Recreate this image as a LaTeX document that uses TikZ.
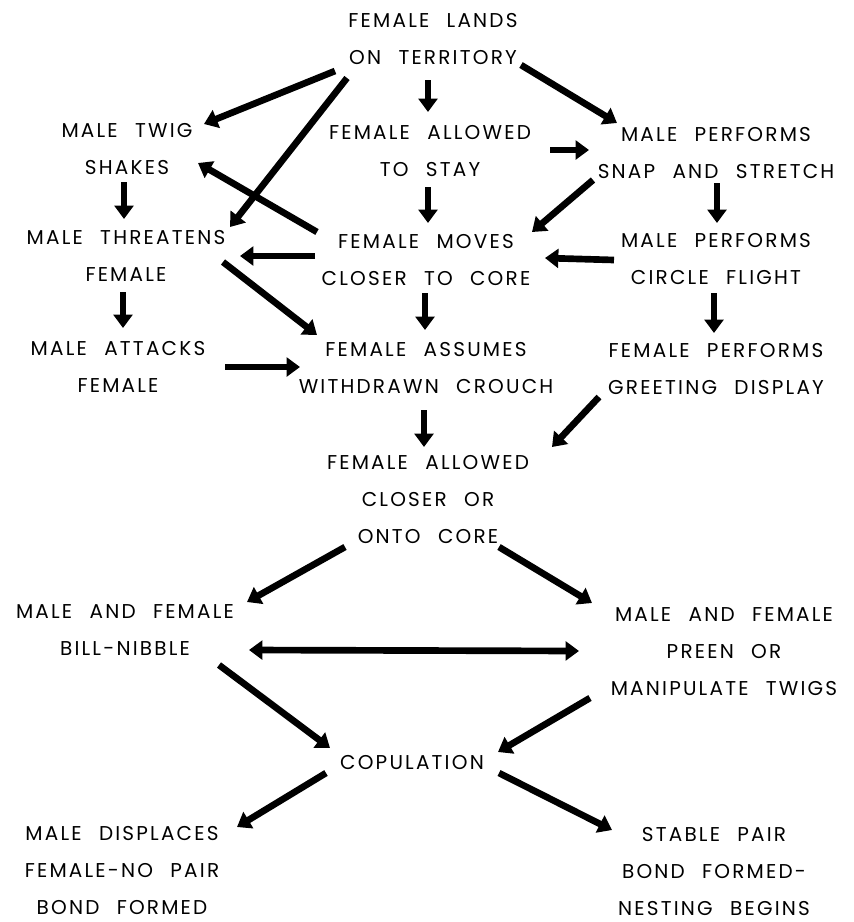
\documentclass[tikz,border=0pt]{standalone}
\usepackage{fontspec}
\setmainfont{Poppins}
\newfontfamily\labfont[LetterSpace=11,WordSpace=2.3]{Poppins}
\usetikzlibrary{arrows.meta,calc}
\tikzset{
  lab/.style={font=\labfont\fontsize{15}{27.75}\selectfont, align=center, inner sep=0pt, text=black},
  arr/.style={line width=5pt, -{Triangle[length=10pt,width=14pt]}},
  darr/.style={line width=5pt, {Triangle[length=10pt,width=14pt]}-{Triangle[length=10pt,width=14pt]}},
}
\begin{document}
\begin{tikzpicture}[x=0.75pt,y=-0.75pt]
\useasboundingbox[fill=white] (0,0) rectangle (854,922);
% nodes
\node[lab] (land)     at (433,39)  {FEMALE LANDS\\ON TERRITORY};
\node[lab] (twig)     at (127,149) {MALE TWIG\\SHAKES};
\node[lab] (allowed)  at (430,151) {FEMALE ALLOWED\\TO STAY};
\node[lab] (snap)     at (716,153) {MALE PERFORMS\\SNAP AND STRETCH};
\node[lab] (threat)   at (126,256) {MALE THREATENS\\FEMALE};
\node[lab] (moves)    at (426,260) {FEMALE MOVES\\CLOSER TO CORE};
\node[lab] (circle)   at (716,259) {MALE PERFORMS\\CIRCLE FLIGHT};
\node[lab] (attacks)  at (118,367) {MALE ATTACKS\\FEMALE};
\node[lab] (crouch)   at (426,368) {FEMALE ASSUMES\\WITHDRAWN CROUCH};
\node[lab] (greet)    at (716,369) {FEMALE PERFORMS\\GREETING DISPLAY};
\node[lab] (closer)   at (428,500) {FEMALE ALLOWED\\CLOSER OR\\ONTO CORE};
\node[lab] (nibble)   at (125,630) {MALE AND FEMALE\\BILL-NIBBLE};
\node[lab] (preen)    at (724,652) {MALE AND FEMALE\\PREEN OR\\MANIPULATE TWIGS};
\node[lab] (copul)    at (412,763) {COPULATION};
\node[lab] (displace) at (122,870) {MALE DISPLACES\\FEMALE-NO PAIR\\BOND FORMED};
\node[lab] (stable)   at (714,871) {STABLE PAIR\\BOND FORMED-\\NESTING BEGINS};
% connectors
\draw[arr] ($(land)+(-98,32)$) -- ($(twig)+(77,-25)$);
\draw[arr] ($(land)+(-5,41)$) -- ($(allowed)+(-2,-39)$);
\draw[arr] ($(land)+(88,26)$) -- ($(snap)+(-99,-30)$);
\draw[arr] ($(allowed)+(120,-1)$) -- ($(snap)+(-127,-3)$);
\draw[arr] ($(allowed)+(-2,36)$) -- ($(moves)+(2,-37)$);
\draw[arr] ($(snap)+(-123,27)$) -- ($(moves)+(106,-28)$);
\draw[arr] ($(snap)+(1,30)$) -- ($(circle)+(1,-36)$);
\draw[arr] ($(moves)+(-109,-28)$) -- ($(twig)+(71,14)$);
\draw[arr, preaction={draw=white, line width=13pt, arrows=-, shorten <=40pt, shorten >=40pt}] ($(land)+(-86,39)$) -- ($(threat)+(104,-29)$);
\draw[arr] ($(moves)+(-111,-4)$) -- ($(threat)+(114,0)$);
\draw[arr] ($(circle)+(-102,1)$) -- ($(moves)+(119,-2)$);
\draw[arr] ($(threat)+(97,6)$) -- ($(crouch)+(-109,-33)$);
\draw[arr] ($(threat)+(-3,36)$) -- ($(attacks)+(5,-39)$);
\draw[arr] ($(twig)+(-3,33)$) -- ($(threat)+(-2,-37)$);
\draw[arr] ($(moves)+(-1,33)$) -- ($(crouch)+(-1,-38)$);
\draw[arr] ($(circle)+(-2,34)$) -- ($(greet)+(-2,-36)$);
\draw[arr] ($(attacks)+(107,0)$) -- ($(crouch)+(-126,-1)$);
\draw[arr] ($(crouch)+(-2,42)$) -- ($(closer)+(-4,-53)$);
\draw[arr] ($(greet)+(-117,28)$) -- ($(closer)+(124,-53)$);
\draw[arr] ($(closer)+(-83,47)$) -- ($(nibble)+(122,-28)$);
\draw[arr] ($(closer)+(71,47)$) -- ($(preen)+(-132,-49)$);
\draw[darr] ($(nibble)+(124,20)$) -- ($(preen)+(-145,-1)$);
\draw[arr] ($(nibble)+(94,35)$) -- ($(copul)+(-82,-15)$);
\draw[arr] ($(preen)+(-134,46)$) -- ($(copul)+(86,-11)$);
\draw[arr] ($(copul)+(-86,10)$) -- ($(displace)+(115,-43)$);
\draw[arr] ($(copul)+(87,10)$) -- ($(stable)+(-102,-41)$);
\end{tikzpicture}
\end{document}
